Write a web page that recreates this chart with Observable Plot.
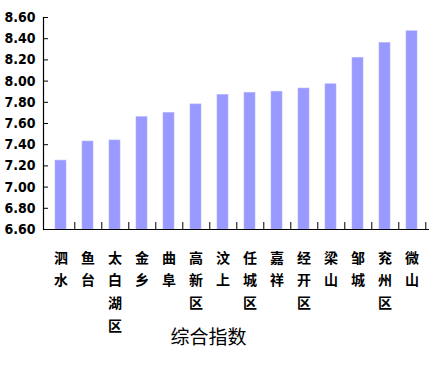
<!DOCTYPE html>
<html>
<head>
<meta charset="utf-8">
<script src="https://cdn.jsdelivr.net/npm/d3@7"></script>
<script src="https://cdn.jsdelivr.net/npm/@observablehq/plot@0.6"></script>
<style>
  html, body { margin: 0; padding: 0; background: #fff; }
  svg { display: block; }
</style>
</head>
<body>
<div id="chart"></div>
<script>
const categories = ["泗水", "鱼台", "太白湖区", "金乡", "曲阜", "高新区", "汶上", "任城区", "嘉祥", "经开区", "梁山", "邹城", "兖州区", "微山"];
const values = [7.25, 7.43, 7.44, 7.66, 7.70, 7.78, 7.87, 7.89, 7.90, 7.93, 7.97, 8.22, 8.36, 8.47];
const yTicks = [6.6, 6.8, 7.0, 7.2, 7.4, 7.6, 7.8, 8.0, 8.2, 8.4, 8.6];
const title = "综合指数";

const data = categories.map((c, i) => ({name: c, value: values[i]}));

const W = 436, H = 368, mL = 43, mR = 7, mT = 17, mB = 139;
const step = (W - mL - mR) / categories.length;

const chart = Plot.plot({
  width: W,
  height: H,
  marginLeft: mL,
  marginRight: mR,
  marginTop: mT,
  marginBottom: mB,
  style: {fontFamily: "'Liberation Sans Narrow', 'DejaVu Sans Condensed', sans-serif", color: "#000", background: "#fff"},
  x: {domain: categories, paddingInner: 0.6, paddingOuter: 0.3, axis: null},
  y: {domain: [6.6, 8.6], ticks: yTicks, axis: null, label: null},
  marks: [
    Plot.barY(data, {x: "name", y1: 6.6, y2: "value", fill: "#9999ff", stroke: "#b3b3ff", strokeWidth: 0.6}),
    Plot.axisY({ticks: yTicks, label: null, tickSize: 0, tickPadding: 8, tickFormat: d3.format(".2f"), fontSize: 14, fontWeight: "bold", fill: "#000"}),
    Plot.axisY({ticks: yTicks, label: null, tickSize: -5, text: null, stroke: "#000"}),
    Plot.ruleX(categories, {x: d => d, dx: step / 2, y1: 6.6, y2: 6.666, stroke: "#000", strokeWidth: 1}),
    Plot.ruleY([6.6], {stroke: "#000", strokeWidth: 1.2}),
    Plot.frame({anchor: "left", stroke: "#000", strokeWidth: 1.2}),
    Plot.text(data, {x: "name", text: d => d.name.split("").join("\n"), frameAnchor: "bottom", lineAnchor: "top", dy: 17, lineHeight: 1.62, fontSize: 14, fontWeight: "bold", fontFamily: "'Noto Sans CJK SC', sans-serif", fill: "#000"}),
    Plot.text([title], {text: d => d, frameAnchor: "bottom", lineAnchor: "middle", dy: 108, dx: -28, fontSize: 19, fontFamily: "'Noto Sans CJK SC', sans-serif", fill: "#000"})
  ]
});

document.getElementById("chart").appendChild(chart);
</script>
</body>
</html>
